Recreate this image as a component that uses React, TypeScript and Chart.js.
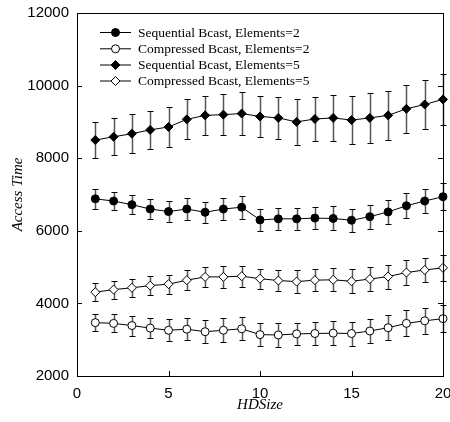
import React, { useEffect, useRef } from 'react';
import { Chart, registerables } from 'chart.js';

Chart.register(...registerables);

const hdSize = [1, 2, 3, 4, 5, 6, 7, 8, 9, 10, 11, 12, 13, 14, 15, 16, 17, 18, 19, 20];

const seqE2 = [6880, 6820, 6720, 6600, 6530, 6600, 6510, 6600, 6650, 6300, 6330, 6330, 6350, 6340, 6290, 6390, 6520, 6690, 6820, 6940];
const seqE2Err = [270, 260, 270, 280, 295, 310, 295, 310, 320, 310, 300, 300, 310, 330, 320, 330, 320, 340, 320, 365];

const compE2 = [3470, 3450, 3390, 3320, 3260, 3290, 3220, 3260, 3300, 3140, 3130, 3160, 3170, 3180, 3170, 3240, 3330, 3450, 3520, 3580];
const compE2Err = [230, 250, 275, 285, 300, 300, 310, 330, 320, 310, 320, 310, 320, 330, 330, 330, 340, 360, 360, 365];

const seqE5 = [8500, 8590, 8675, 8780, 8860, 9070, 9180, 9200, 9230, 9150, 9110, 9000, 9080, 9110, 9050, 9110, 9180, 9360, 9480, 9620];
const seqE5Err = [505, 515, 535, 530, 545, 550, 540, 570, 590, 565, 580, 625, 600, 640, 655, 680, 680, 670, 670, 700];

const compE5 = [4310, 4380, 4430, 4490, 4530, 4640, 4730, 4730, 4750, 4680, 4630, 4600, 4640, 4650, 4610, 4670, 4740, 4850, 4920, 4980];
const compE5Err = [240, 250, 255, 255, 265, 275, 265, 295, 285, 275, 300, 310, 310, 320, 330, 340, 330, 340, 340, 350];

const seriesLabels = [
  'Sequential Bcast, Elements=2',
  'Compressed Bcast, Elements=2',
  'Sequential Bcast, Elements=5',
  'Compressed Bcast, Elements=5',
];

const xTicks = [0, 5, 10, 15, 20];
const yTicks = [2000, 4000, 6000, 8000, 10000, 12000];

const SANS = '"Liberation Sans", Arial, sans-serif';
const SERIF = '"Liberation Serif", "Times New Roman", serif';

const errorBarPlugin = {
  id: 'errorBars',
  beforeDatasetsDraw(chart: any) {
    const ctx = chart.ctx;
    const xs = chart.scales.x;
    const ys = chart.scales.y;
    ctx.save();
    chart.data.datasets.forEach((ds: any) => {
      const errs = ds.errors;
      if (!errs) return;
      ds.data.forEach((p: any, i: number) => {
        const px = Math.round(xs.getPixelForValue(p.x)) + 0.5;
        const top = Math.round(ys.getPixelForValue(p.y + errs[i])) + 0.5;
        const bot = Math.round(ys.getPixelForValue(p.y - errs[i])) + 0.5;
        ctx.strokeStyle = '#555';
        ctx.lineWidth = 1.5;
        ctx.beginPath();
        ctx.moveTo(px, top);
        ctx.lineTo(px, bot);
        ctx.stroke();
        ctx.strokeStyle = '#000';
        ctx.lineWidth = 1;
        ctx.beginPath();
        ctx.moveTo(px - 3, top);
        ctx.lineTo(px + 3, top);
        ctx.moveTo(px - 3, bot);
        ctx.lineTo(px + 3, bot);
        ctx.stroke();
      });
    });
    ctx.restore();
  },
};

const framePlugin = {
  id: 'frame',
  afterDatasetsDraw(chart: any) {
    const { ctx, chartArea } = chart;
    const { left, right, top, bottom } = chartArea;
    const xs = chart.scales.x;
    const ys = chart.scales.y;
    ctx.save();
    ctx.strokeStyle = '#000';
    ctx.lineWidth = 1;
    ctx.strokeRect(Math.round(left) + 0.5, Math.round(top) + 0.5, Math.round(right - left), Math.round(bottom - top));
    ctx.beginPath();
    yTicks.forEach((v) => {
      if (v === yTicks[0] || v === yTicks[yTicks.length - 1]) return;
      const py = Math.round(ys.getPixelForValue(v)) + 0.5;
      ctx.moveTo(left, py);
      ctx.lineTo(left + 5, py);
      ctx.moveTo(right - 5, py);
      ctx.lineTo(right, py);
    });
    xTicks.forEach((v) => {
      if (v === xTicks[0] || v === xTicks[xTicks.length - 1]) return;
      const px = Math.round(xs.getPixelForValue(v)) + 0.5;
      ctx.moveTo(px, bottom);
      ctx.lineTo(px, bottom - 5);
    });
    ctx.stroke();
    ctx.restore();
  },
};

const legendPlugin = {
  id: 'customLegend',
  afterDraw(chart: any) {
    const ctx = chart.ctx;
    const rowsY = [32.5, 48.8, 65, 81];
    ctx.save();
    chart.data.datasets.forEach((ds: any, i: number) => {
      const y = rowsY[i];
      ctx.strokeStyle = '#000';
      ctx.lineWidth = 1;
      ctx.beginPath();
      ctx.moveTo(100, y);
      ctx.lineTo(131, y);
      ctx.stroke();
      ctx.fillStyle = ds.pointBackgroundColor;
      ctx.strokeStyle = '#000';
      ctx.beginPath();
      if (ds.pointStyle === 'rectRot') {
        const r = ds.pointRadius;
        ctx.moveTo(115.5 - r, y);
        ctx.lineTo(115.5, y - r);
        ctx.lineTo(115.5 + r, y);
        ctx.lineTo(115.5, y + r);
        ctx.closePath();
      } else {
        ctx.arc(115.5, y, ds.pointRadius, 0, Math.PI * 2);
      }
      ctx.fill();
      ctx.stroke();
      ctx.fillStyle = '#000';
      ctx.font = '13.5px ' + SERIF;
      ctx.textBaseline = 'middle';
      ctx.textAlign = 'left';
      ctx.fillText(ds.label, 138, y + 0.5);
    });
    ctx.restore();
  },
};

function makeData(values: number[]) {
  return hdSize.map((x, i) => ({ x, y: values[i] }));
}

export default function App() {
  const ref = useRef<HTMLCanvasElement | null>(null);

  useEffect(() => {
    if (!ref.current) return;
    const common = {
      borderColor: '#000',
      borderWidth: 1,
      pointBorderColor: '#000',
      pointBorderWidth: 1,
      showLine: true,
      clip: false as any,
      tension: 0,
    };
    const chart = new Chart(ref.current, {
      type: 'line',
      data: {
        datasets: [
          { ...common, label: seriesLabels[0], data: makeData(seqE2), errors: seqE2Err, pointStyle: 'circle', pointRadius: 4, pointBackgroundColor: '#000' } as any,
          { ...common, label: seriesLabels[1], data: makeData(compE2), errors: compE2Err, pointStyle: 'circle', pointRadius: 4, pointBackgroundColor: '#fff' } as any,
          { ...common, label: seriesLabels[2], data: makeData(seqE5), errors: seqE5Err, pointStyle: 'rectRot', pointRadius: 4.5, pointBackgroundColor: '#000' } as any,
          { ...common, label: seriesLabels[3], data: makeData(compE5), errors: compE5Err, pointStyle: 'rectRot', pointRadius: 4.5, pointBackgroundColor: '#fff' } as any,
        ],
      },
      options: {
        responsive: false,
        animation: false,
        devicePixelRatio: 1,
        layout: { padding: { top: 13, right: 7, left: 0, bottom: 0 } },
        plugins: {
          legend: { display: false },
          tooltip: { enabled: false },
        },
        scales: {
          x: {
            type: 'linear',
            min: 0,
            max: 20,
            afterBuildTicks: (scale: any) => {
              scale.ticks = xTicks.map((v) => ({ value: v }));
            },
            afterFit: (scale: any) => {
              scale.height = 46;
              scale.paddingLeft = 0;
              scale.paddingRight = 0;
            },
            ticks: {
              color: '#000',
              font: { family: SANS, size: 15 },
              padding: 9,
              maxRotation: 0,
              autoSkip: false,
              callback: (v: any) => String(v),
            },
            grid: { display: false, drawTicks: false },
            border: { display: false },
            title: {
              display: true,
              text: 'HDSize',
              color: '#000',
              font: { family: SERIF, size: 15, style: 'italic' },
              padding: { top: 0, bottom: 8 },
            },
          },
          y: {
            type: 'linear',
            min: 2000,
            max: 12000,
            afterBuildTicks: (scale: any) => {
              scale.ticks = yTicks.map((v) => ({ value: v }));
            },
            afterFit: (scale: any) => {
              scale.width = 77;
              scale.paddingTop = 0;
              scale.paddingBottom = 0;
            },
            ticks: {
              color: '#000',
              font: { family: SANS, size: 15 },
              padding: 8,
              autoSkip: false,
              callback: (v: any) => String(v),
            },
            grid: { display: false, drawTicks: false },
            border: { display: false },
            title: {
              display: true,
              text: 'Access Time',
              color: '#000',
              font: { family: SERIF, size: 15, style: 'italic' },
              padding: { top: 9, bottom: 0 },
            },
          },
        },
      } as any,
      plugins: [errorBarPlugin, framePlugin, legendPlugin],
    });
    return () => chart.destroy();
  }, []);

  return (
    <div style={{ position: 'absolute', left: 0, top: 0, width: 450, height: 422, background: '#fff' }}>
      <canvas ref={ref} width={450} height={422} style={{ width: 450, height: 422, display: 'block' }} />
    </div>
  );
}
